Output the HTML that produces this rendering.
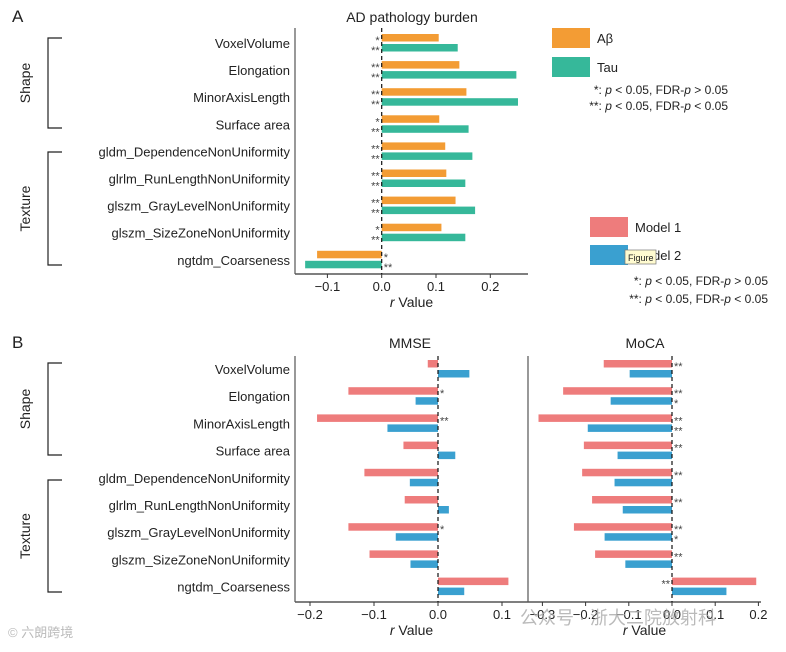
<!DOCTYPE html>
<html><head><meta charset="utf-8"><style>
body{margin:0;background:#fff}
svg text{font-family:"Liberation Sans","Noto Sans CJK SC",sans-serif;fill:#222}
</style></head><body>
<svg id="c" width="786" height="647" xmlns="http://www.w3.org/2000/svg">
<text x="12" y="22" font-size="17">A</text>
<text x="12" y="348" font-size="17">B</text>
<text x="412" y="22" font-size="14" text-anchor="middle">AD pathology burden</text>
<text x="410" y="348" font-size="14" text-anchor="middle">MMSE</text>
<text x="645" y="348" font-size="14" text-anchor="middle">MoCA</text>
<g id="g"></g>
<rect x="552" y="28" width="38" height="20" fill="#f39c34"/>
<text x="597" y="43" font-size="13">Aβ</text>
<rect x="552" y="57" width="38" height="20" fill="#36b89a"/>
<text x="597" y="72" font-size="13">Tau</text>
<text x="728" y="94" font-size="12" text-anchor="end">*: <tspan font-style="italic">p</tspan> &lt; 0.05, FDR-<tspan font-style="italic">p</tspan> &gt; 0.05</text>
<text x="728" y="110" font-size="12" text-anchor="end">**: <tspan font-style="italic">p</tspan> &lt; 0.05, FDR-<tspan font-style="italic">p</tspan> &lt; 0.05</text>
<rect x="590" y="217" width="38" height="20" fill="#ee7c7c"/>
<text x="635" y="232" font-size="13">Model 1</text>
<rect x="590" y="245" width="38" height="20" fill="#3aa0d0"/>
<text x="635" y="260" font-size="13">Model 2</text>
<rect x="625" y="250" width="31" height="14" fill="#fffbd0" stroke="#777" stroke-width="0.7"/>
<text x="628" y="261" font-size="9">Figure</text>
<text x="768" y="285" font-size="12" text-anchor="end">*: <tspan font-style="italic">p</tspan> &lt; 0.05, FDR-<tspan font-style="italic">p</tspan> &gt; 0.05</text>
<text x="768" y="303" font-size="12" text-anchor="end">**: <tspan font-style="italic">p</tspan> &lt; 0.05, FDR-<tspan font-style="italic">p</tspan> &lt; 0.05</text>
<text x="8" y="637" font-size="13" style="fill:#bbb">© 六朗跨境</text>
<text x="520" y="624" font-size="18" style="fill:#aaa;opacity:.8">公众号 · 浙大二院放射科</text>
</svg>
<script>
const features=["VoxelVolume","Elongation","MinorAxisLength","Surface area","gldm_DependenceNonUniformity","glrlm_RunLengthNonUniformity","glszm_GrayLevelNonUniformity","glszm_SizeZoneNonUniformity","ngtdm_Coarseness"];
const abeta=[0.105,0.143,0.156,0.106,0.117,0.119,0.136,0.11,-0.119];
const tau=[0.14,0.248,0.251,0.16,0.167,0.154,0.172,0.154,-0.141];
const abetaSig=["*","**","**","*","**","**","**","*","*"];
const tauSig=["**","**","**","**","**","**","**","**","**"];
const mmse1=[-0.016,-0.14,-0.189,-0.054,-0.115,-0.052,-0.14,-0.107,0.11];
const mmse2=[0.049,-0.035,-0.079,0.027,-0.044,0.017,-0.066,-0.043,0.041];
const mmse1Sig=["","*","**","","","","*","",""];
const mmse2Sig=["","","","","","","","",""];
const moca1=[-0.158,-0.252,-0.309,-0.204,-0.208,-0.185,-0.227,-0.178,0.195];
const moca2=[-0.098,-0.142,-0.195,-0.126,-0.133,-0.114,-0.156,-0.108,0.126];
const moca1Sig=["**","**","**","**","**","**","**","**","**"];
const moca2Sig=["","*","**","","","","*","",""];
const ticksA=[-0.1,0,0.1,0.2];
const ticksMMSE=[-0.2,-0.1,0,0.1];
const ticksMoCA=[-0.3,-0.2,-0.1,0,0.1,0.2];
const NS="http://www.w3.org/2000/svg";
const g=document.getElementById('g');
function mk(t,a,p){const e=document.createElementNS(NS,t);for(const k in a)e.setAttribute(k,a[k]);(p||g).appendChild(e);return e;}
function panel(o){
  const x=v=>o.x0+v*o.k;
  const y=i=>o.yTop+i*o.step;
  let ax=mk('line',{x1:o.left,x2:o.right,y1:o.axisY,y2:o.axisY,stroke:'#333','stroke-width':1.2});
  
  
  let la=mk('line',{x1:o.left,x2:o.left,y1:o.axisTop,y2:o.axisY,stroke:'#555','stroke-width':1.2});
  
  
  o.ticks.forEach(t=>{
    mk('line',{x1:x(t),x2:x(t),y1:o.axisY,y2:o.axisY+4,stroke:'#333'});
    let tx=mk('text',{x:x(t),y:o.axisY+17,'font-size':13,'text-anchor':'middle'});
    tx.textContent=(t===0?'0.0':t.toFixed(1)).replace('-','\u2212');
    
    
  });
  let xt=mk('text',{x:(o.left+o.right)/2,y:o.axisY+33,'font-size':14,'text-anchor':'middle'});
  xt.innerHTML='<tspan font-style="italic">r</tspan> Value';
  
  
  o.series.forEach((s,si)=>{
    s.vals.forEach((v,i)=>{
      const yy=y(i)+(si===0?-9:1);
      let r=mk('rect',{x:Math.min(x(0),x(v)),y:yy,width:Math.abs(x(v)-x(0)),height:7.5,fill:s.color});
      
      
      const st=s.sig[i];
      if(st){
        let tx=mk('text',{x:v>=0?x(0)-2:x(0)+2,y:yy+10,'font-size':11,'text-anchor':v>=0?'end':'start',style:'fill:#444'});
        tx.textContent=st;
        
        
      }
    });
  });
  let z=mk('line',{x1:x(0),x2:x(0),y1:o.axisTop,y2:o.axisY,stroke:'#111','stroke-width':1.2,'stroke-dasharray':'4,3'});
  
  
}
function labels(yTop,step,pre){
  features.forEach((f,i)=>{
    let t=mk('text',{x:290,y:yTop+i*step+5,'font-size':13,'text-anchor':'end'});
    t.textContent=f;
    
    
  });
}
function bracket(y1,y2,label,pre){
  mk('path',{d:`M62 ${y1} H48 V${y2} H62`,fill:'none',stroke:'#222','stroke-width':1.2});
  let t=mk('text',{x:30,y:(y1+y2)/2,'font-size':14,'text-anchor':'middle',transform:`rotate(-90 30 ${(y1+y2)/2})`});
  t.textContent=label;
  
  
}
labels(43,27.1,'a');labels(369,27.2,'b');
bracket(38,128,'Shape','a-shape');bracket(152,265,'Texture','a-texture');
bracket(363,455,'Shape','b-shape');bracket(480,592,'Texture','b-texture');
panel({name:'pathology',x0:381.7,k:543,yTop:43,step:27.1,left:295,right:528,axisY:274,axisTop:28,ticks:ticksA,
 series:[{key:'abeta',vals:abeta,color:'#f39c34',sig:abetaSig},{key:'tau',vals:tau,color:'#36b89a',sig:tauSig}]});
panel({name:'mmse',x0:438,k:640,yTop:369,step:27.2,left:295,right:528,axisY:602,axisTop:356,ticks:ticksMMSE,
 series:[{key:'model1',vals:mmse1,color:'#ee7c7c',sig:mmse1Sig},{key:'model2',vals:mmse2,color:'#3aa0d0',sig:mmse2Sig}]});
panel({name:'moca',x0:672,k:432,yTop:369,step:27.2,left:528,right:761,axisY:602,axisTop:356,ticks:ticksMoCA,
 series:[{key:'model1',vals:moca1,color:'#ee7c7c',sig:moca1Sig},{key:'model2',vals:moca2,color:'#3aa0d0',sig:moca2Sig}]});
</script>
</body></html>
